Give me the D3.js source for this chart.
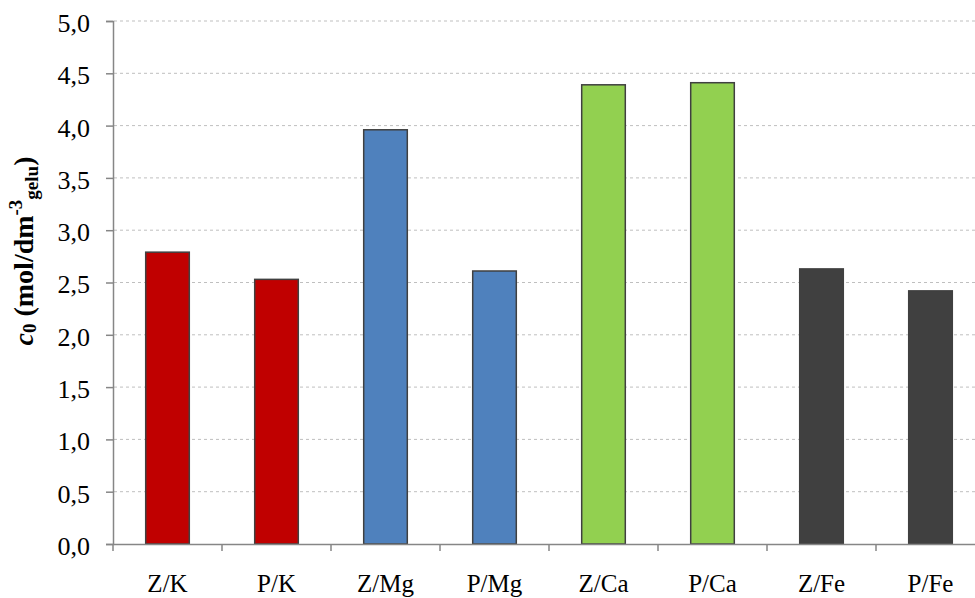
<!DOCTYPE html>
<html><head><meta charset="utf-8">
<script src="https://cdn.jsdelivr.net/npm/d3@7"></script>
<style>body{margin:0;background:#fff;} svg{display:block;}</style>
</head><body>
<script>
const categories = ["Z/K","P/K","Z/Mg","P/Mg","Z/Ca","P/Ca","Z/Fe","P/Fe"];
const values = [2.79, 2.53, 3.96, 2.61, 4.39, 4.41, 2.63, 2.42];
const colors = ["#C00000","#C00000","#4F81BD","#4F81BD","#92D050","#92D050","#404040","#404040"];
const yTicks = [0,0.5,1,1.5,2,2.5,3,3.5,4,4.5,5];

(function(){
const W = 975, H = 598;
const svg = d3.select("body").append("svg").attr("width", W).attr("height", H);
const mLeft = 113, mRight = 985, mTop = 21, mBottom = 544;

const x = d3.scaleBand().domain(categories).range([mLeft, mRight]).padding(0);
const y = d3.scaleLinear().domain([0, 5]).range([mBottom, mTop]);
const font = "'Liberation Serif','Times New Roman',serif";

svg.append("g").selectAll("line").data(yTicks.filter(d => d > 0)).join("line")
  .attr("x1", mLeft + 1).attr("x2", mRight)
  .attr("y1", d => y(d)).attr("y2", d => y(d))
  .attr("stroke", "#BFBFBF").attr("stroke-width", 1).attr("stroke-dasharray", "3,3");

const barW = x.bandwidth() * 0.4;
svg.append("g").selectAll("rect").data(categories).join("rect")
  .attr("x", d => x(d) + (x.bandwidth() - barW) / 2)
  .attr("y", (d, i) => y(values[i]))
  .attr("width", barW)
  .attr("height", (d, i) => y(0) - y(values[i]))
  .attr("fill", (d, i) => colors[i])
  .attr("stroke", "#404040").attr("stroke-width", 1.5);

const yAxis = d3.axisLeft(y).tickValues(yTicks).tickSize(7).tickPadding(16)
  .tickFormat(d => d3.format(".1f")(d).replace(".", ","));
const gy = svg.append("g").attr("transform", `translate(${mLeft},0)`).call(yAxis);
gy.select(".domain").attr("stroke", "#868686").attr("stroke-width", 1.5);
gy.selectAll(".tick line").attr("stroke", "#868686").attr("stroke-width", 1.5);
gy.selectAll(".tick text").attr("fill", "#000").attr("dy", "0.4em")
  .style("font-family", font).style("font-size", "26px");

const xAxis = d3.axisBottom(x).tickSize(0).tickPadding(30);
const gx = svg.append("g").attr("transform", `translate(0,${mBottom})`).call(xAxis);
gx.select(".domain").attr("stroke", "#868686").attr("stroke-width", 1.5);
gx.selectAll(".tick text").attr("fill", "#000").style("font-family", font).style("font-size", "25px");
svg.append("g").selectAll("line").data(categories).join("line")
  .attr("x1", d => x(d)).attr("x2", d => x(d))
  .attr("y1", mBottom).attr("y2", mBottom + 7)
  .attr("stroke", "#868686").attr("stroke-width", 1.5);

const t = svg.append("text")
  .attr("transform", `translate(33,251) rotate(-90)`)
  .attr("text-anchor", "middle")
  .style("font-family", font).style("font-size", "28px").attr("font-weight", "bold").attr("fill", "#000");
t.append("tspan").attr("font-style", "italic").text("c");
t.append("tspan").style("font-size", "19px").attr("dy", 3).text("0");
t.append("tspan").attr("dy", -3).text(" (mol/dm");
t.append("tspan").style("font-size", "19px").attr("dy", -11).text("-3");
t.append("tspan").style("font-size", "19px").attr("dy", 16).text("gelu");
t.append("tspan").attr("dy", -5).text(")");
})();
</script>
</body></html>
